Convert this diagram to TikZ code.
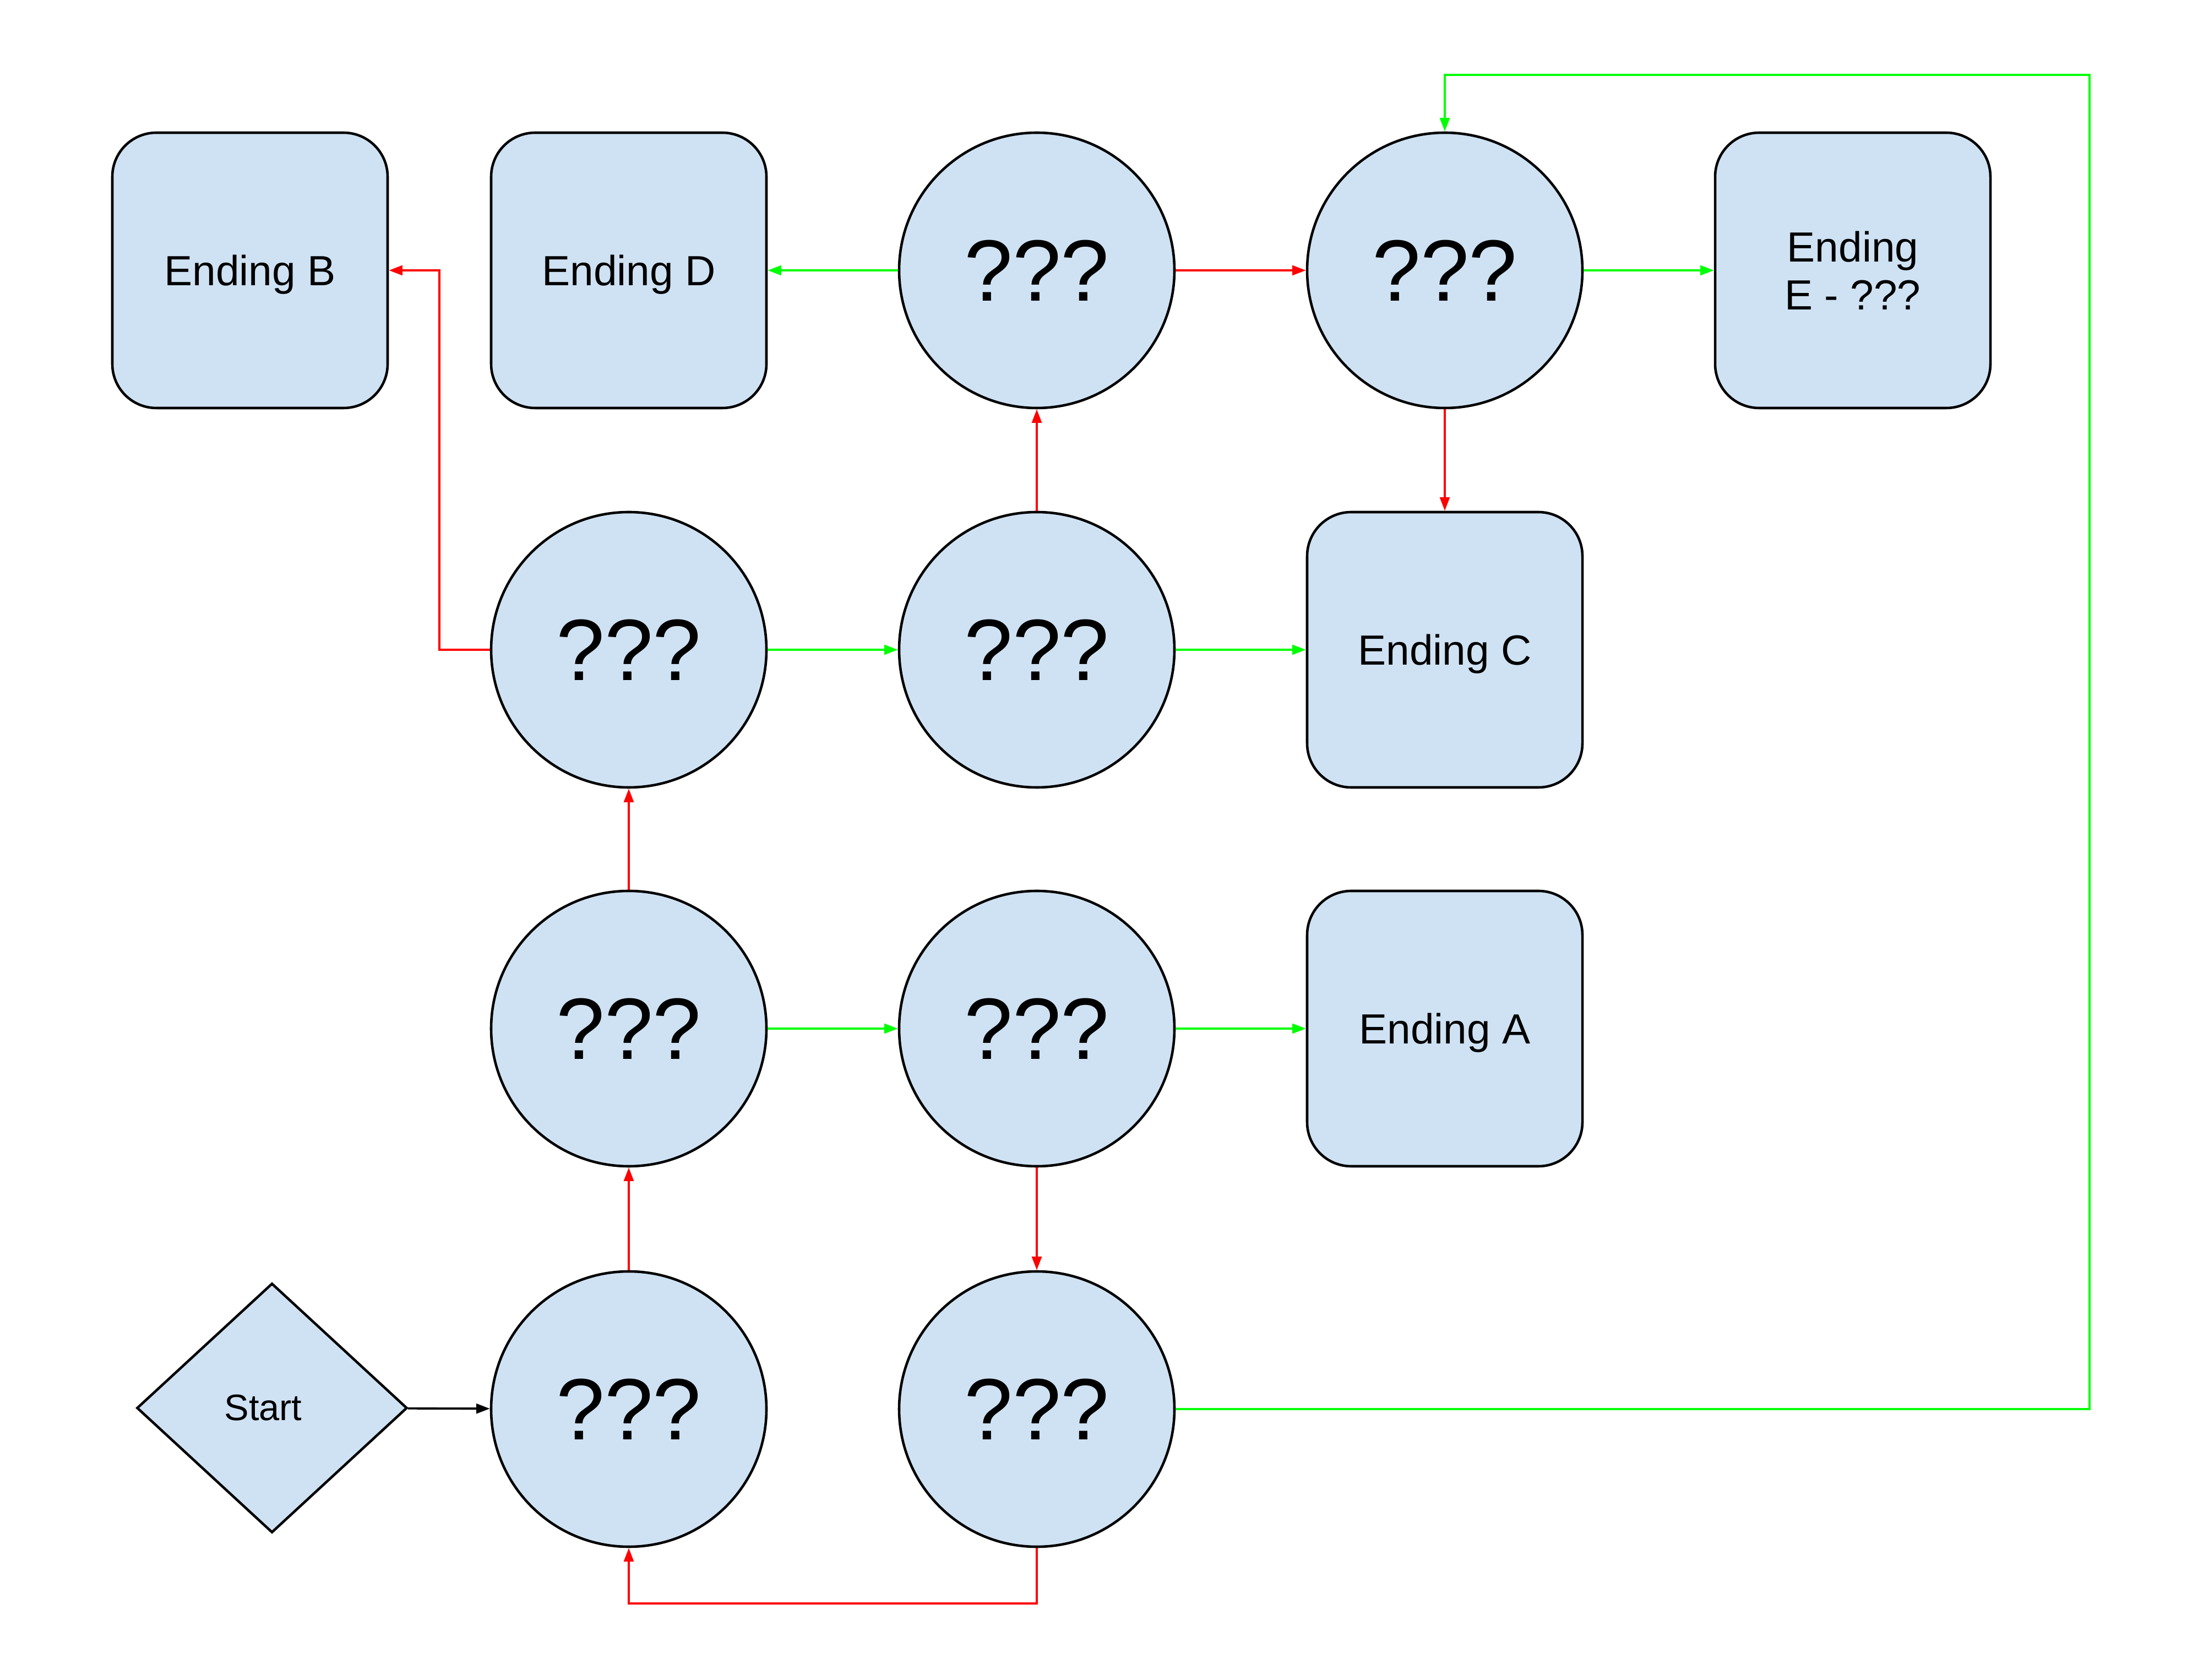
\documentclass[tikz,border=0pt]{standalone}
\usepackage{fontspec}
\setmainfont{Liberation Sans}
\usetikzlibrary{arrows.meta,shapes.geometric,positioning}

\definecolor{boxblue}{HTML}{CFE2F3}
\definecolor{yesgreen}{HTML}{00FF00}

\begin{document}
\begin{tikzpicture}[>={Triangle[length=7pt,width=5pt]},
    question/.style={circle, draw, line width=1.3pt, fill=boxblue, minimum size=5cm, inner sep=0pt, font=\fontsize{45}{54}\selectfont},
    ending/.style={rectangle, rounded corners=0.8cm, draw, line width=1.3pt, fill=boxblue, minimum size=5cm, inner sep=0pt, text depth=0pt, align=center, font=\fontsize{21.8}{24.7}\selectfont},
    yesarrow/.style={->, draw=yesgreen, line width=1.1pt},
    noarrow/.style={->, draw=red, line width=1.1pt}]

    \useasboundingbox (0,0) rectangle (40.12,30.5);

    % start
    \node[diamond, draw, line width=1.3pt, fill=boxblue, minimum width=4.91cm, minimum height=4.53cm, inner sep=0pt] (start) at (4.94,4.93) {};
    \node[font=\fontsize{19}{23}\selectfont, inner sep=0pt] (starttext) at ([xshift=-0.16cm]start.center) {Start};

    % questions
    \node[question] (q41) at (11.42,4.91) {???};
    \node[question] (q42) at (18.83,4.91) {???};
    \node[question] (q31) at (11.42,11.82) {???};
    \node[question] (q32) at (18.83,11.82) {???};
    \node[question] (q21) at (11.42,18.70) {???};
    \node[question] (q22) at (18.83,18.70) {???};
    \node[question] (q12) at (18.83,25.59) {???};
    \node[question] (q13) at (26.24,25.59) {???};

    % endings
    \node[ending] (endA) at (26.24,11.82) {Ending A};
    \node[ending] (endB) at (4.54,25.59) {Ending B};
    \node[ending] (endC) at (26.24,18.70) {Ending C};
    \node[ending] (endD) at (11.42,25.59) {Ending D};
    \node[ending] (endE) at (33.65,25.59) {Ending\\E - ???};

    \coordinate (lowturn) at (15,1.38);
    \coordinate (leftturn) at (7.98,18.70);
    \coordinate (farright) at (37.95,29.14);

    \draw[->, line width=1.1pt] (start) -- (q41);

    \draw[noarrow] (q41) -- (q31);
    \draw[noarrow] (q31) -- (q21);
    \draw[yesarrow] (q31) -- (q32);
    \draw[yesarrow] (q32) -- (endA);
    \draw[noarrow] (q32) -- (q42);
    \draw[noarrow] (q42.south) -- (q42.south |- lowturn) -| (q41.south);
    \draw[yesarrow] (q42.east) -| (farright) -| (q13.north);

    \draw[yesarrow] (q21) -- (q22);
    \draw[noarrow] (q21.west) -- (q21.west -| leftturn) |- (endB.east);
    \draw[yesarrow] (q22) -- (endC);
    \draw[noarrow] (q22) -- (q12);

    \draw[yesarrow] (q12) -- (endD);
    \draw[noarrow] (q12) -- (q13);
    \draw[yesarrow] (q13) -- (endE);
    \draw[noarrow] (q13) -- (endC);

\end{tikzpicture}
\end{document}
